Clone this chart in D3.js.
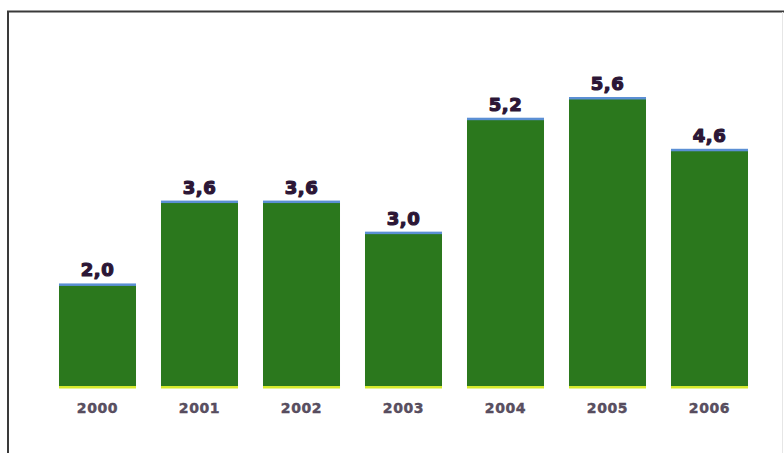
<!DOCTYPE html>
<html>
<head>
<meta charset="utf-8">
<script src="https://cdn.jsdelivr.net/npm/d3@7"></script>
<style>
  html, body { margin: 0; padding: 0; background: #ffffff; }
  svg { display: block; }
</style>
</head>
<body>
<script>
// Annual values, one bar per year
const years = ["2000", "2001", "2002", "2003", "2004", "2005", "2006"];
const values = [2.0, 3.6, 3.6, 3.0, 5.2, 5.6, 4.6];
const valueLabels = ["2,0", "3,6", "3,6", "3,0", "5,2", "5,6", "4,6"];

const W = 784, H = 453;
const baseY = 388;

const svg = d3.select("body").append("svg")
  .attr("width", W).attr("height", H);

svg.append("rect").attr("width", W).attr("height", H).attr("fill", "#ffffff");

// Frame: top and left rules
svg.append("line").attr("x1", 7).attr("x2", W).attr("y1", 11.5).attr("y2", 11.5)
  .attr("stroke", "#3a3a3a").attr("stroke-width", 2);
svg.append("line").attr("x1", 8).attr("x2", 8).attr("y1", 11).attr("y2", H)
  .attr("stroke", "#3a3a3a").attr("stroke-width", 2);
svg.append("line").attr("x1", 782.5).attr("x2", 782.5).attr("y1", 12).attr("y2", H)
  .attr("stroke", "#e6e6e6").attr("stroke-width", 1);

const x = d3.scaleBand()
  .domain(years)
  .range([46.5, 760.5])
  .paddingInner(0.245)
  .paddingOuter(0.1225);

const y = d3.scaleLinear()
  .domain([0, 5.6])
  .range([baseY, 98]);

const data = years.map((yr, i) => ({ yr, v: values[i], label: valueLabels[i] }));

const g = svg.append("g");

// Bars
g.selectAll("rect.bar").data(data).join("rect")
  .attr("class", "bar")
  .attr("x", d => x(d.yr))
  .attr("width", x.bandwidth())
  .attr("y", d => y(d.v))
  .attr("height", d => baseY - y(d.v))
  .attr("fill", "#2b781d");

// Blue cap on each bar
g.selectAll("rect.cap").data(data).join("rect")
  .attr("class", "cap")
  .attr("x", d => x(d.yr))
  .attr("width", x.bandwidth())
  .attr("y", d => y(d.v) - 1)
  .attr("height", 2.5)
  .attr("fill", "#5b8fd4");

// Yellow base on each bar
g.selectAll("rect.base").data(data).join("rect")
  .attr("class", "base")
  .attr("x", d => x(d.yr))
  .attr("width", x.bandwidth())
  .attr("y", baseY - 2)
  .attr("height", 2.5)
  .attr("fill", "#d6ea2c");

// Value labels (heavy, with a thin outline to thicken strokes)
g.selectAll("text.val").data(data).join("text")
  .attr("class", "val")
  .attr("x", d => x(d.yr) + x.bandwidth() / 2)
  .attr("y", d => y(d.v) - 8)
  .attr("text-anchor", "middle")
  .attr("font-family", "DejaVu Sans")
  .attr("font-weight", "bold")
  .attr("font-size", 18)
  .attr("letter-spacing", 0.5)
  .attr("fill", "#2c1636")
  .attr("stroke", "#2c1636")
  .attr("stroke-width", 1.2)
  .attr("stroke-linejoin", "round")
  .text(d => d.label);

// Year axis (labels only)
const axis = svg.append("g")
  .attr("transform", `translate(0,${baseY})`)
  .call(d3.axisBottom(x).tickSize(0).tickPadding(25));
axis.select(".domain").remove();
axis.selectAll("text")
  .attr("dy", 0)
  .attr("font-family", "DejaVu Sans")
  .attr("font-weight", "bold")
  .attr("font-size", 14)
  .attr("letter-spacing", 0.6)
  .attr("fill", "#5a5062")
  .attr("stroke", "#4a4052")
  .attr("stroke-width", 0.4);
</script>
</body>
</html>
